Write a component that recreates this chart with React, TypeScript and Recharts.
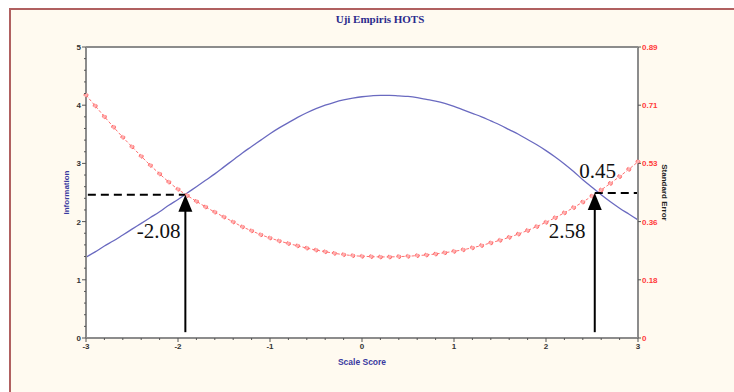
import {
  CartesianGrid,
  ComposedChart,
  Label,
  Line,
  ReferenceDot,
  ReferenceLine,
  XAxis,
  YAxis,
} from 'recharts';

const THETA = [
  -3.0, -2.9, -2.8, -2.7, -2.6, -2.5, -2.4, -2.3, -2.2, -2.1,
  -2.0, -1.9, -1.8, -1.7, -1.6, -1.5, -1.4, -1.3, -1.2, -1.1,
  -1.0, -0.9, -0.8, -0.7, -0.6, -0.5, -0.4, -0.3, -0.2, -0.1,
  0.0, 0.1, 0.2, 0.3, 0.4, 0.5, 0.6, 0.7, 0.8, 0.9,
  1.0, 1.1, 1.2, 1.3, 1.4, 1.5, 1.6, 1.7, 1.8, 1.9,
  2.0, 2.1, 2.2, 2.3, 2.4, 2.5, 2.6, 2.7, 2.8, 2.9, 3.0,
];

const INFORMATION = [
  1.39, 1.48, 1.58, 1.67, 1.77, 1.87, 1.97, 2.07, 2.17, 2.28,
  2.38, 2.49, 2.6, 2.71, 2.82, 2.94, 3.06, 3.18, 3.29, 3.4,
  3.51, 3.61, 3.7, 3.79, 3.87, 3.94, 4.0, 4.05, 4.09, 4.12,
  4.145, 4.16, 4.17, 4.17, 4.16, 4.15, 4.13, 4.1, 4.07, 4.03,
  3.98, 3.92, 3.86, 3.8, 3.73, 3.66, 3.58, 3.5, 3.41, 3.32,
  3.22, 3.11, 2.99, 2.86, 2.72, 2.59, 2.46, 2.34, 2.23, 2.13, 2.03,
];

const STD_ERROR = [
  0.743, 0.71, 0.677, 0.645, 0.614, 0.585, 0.556, 0.528, 0.502, 0.477,
  0.455, 0.436, 0.418, 0.401, 0.385, 0.37, 0.355, 0.34, 0.328, 0.316,
  0.306, 0.297, 0.289, 0.282, 0.275, 0.269, 0.264, 0.259, 0.255, 0.252,
  0.25, 0.249, 0.248, 0.248, 0.249, 0.25, 0.252, 0.254, 0.257, 0.261,
  0.265, 0.27, 0.276, 0.283, 0.291, 0.299, 0.308, 0.318, 0.329, 0.341,
  0.354, 0.368, 0.383, 0.399, 0.416, 0.434, 0.453, 0.473, 0.494, 0.516, 0.539,
];

const X_TICKS = Array.from({ length: 31 }, (_, i) => Math.round((-3 + i * 0.2) * 10) / 10);
const INFO_TICKS = Array.from({ length: 26 }, (_, i) => Math.round(i * 0.2 * 10) / 10);
const SE_TICKS = [0, 0.178, 0.356, 0.534, 0.712, 0.89];
const SE_TICK_LABELS = ['0', '0.18', '0.36', '0.53', '0.71', '0.89'];

// cut points marked on the plot
const LOW_CUT = { theta: -1.92, info: 2.46, label: '-2.08' };
const HIGH_CUT = { theta: 2.53, info: 2.49, label: '2.58', se: '0.45' };

const rows = THETA.map((theta, i) => ({ theta, info: INFORMATION[i], se: STD_ERROR[i] }));

const TICK_FONT = "'Liberation Sans Narrow', 'Liberation Sans', Arial, sans-serif";
const AXIS_GREY = '#8c8c8c';

const isMajor = (v: number) => Math.abs(v - Math.round(v)) < 1e-6;

function XTick(props: any) {
  const { x, y, payload } = props;
  const v = payload.value;
  const major = isMajor(v);
  return (
    <g>
      <line x1={x} x2={x} y1={y} y2={y + (major ? 4 : 2)} stroke="#555" />
      {major && (
        <text x={x} y={y + 11} textAnchor="middle" fontSize={8} fontWeight="bold" fontFamily={TICK_FONT} fill="#333">
          {Math.round(v)}
        </text>
      )}
    </g>
  );
}

function InfoTick(props: any) {
  const { x, y, payload } = props;
  const v = payload.value;
  const major = isMajor(v);
  return (
    <g>
      <line x1={x} x2={x - (major ? 4 : 2)} y1={y} y2={y} stroke="#555" />
      {major && (
        <text x={x - 5} y={y + 3} textAnchor="end" fontSize={8} fontWeight="bold" fontFamily={TICK_FONT} fill="#333">
          {Math.round(v)}
        </text>
      )}
    </g>
  );
}

function SeTick(props: any) {
  const { x, y, payload, index } = props;
  return (
    <g>
      <line x1={x} x2={x + 3} y1={y} y2={y} stroke="#555" />
      <text x={x + 4} y={y + 3} textAnchor="start" fontSize={8} fontWeight="bold" fontFamily={TICK_FONT} fill="#ff3b3b">
        {SE_TICK_LABELS[index] ?? payload.value}
      </text>
    </g>
  );
}

function ArrowHead(props: any) {
  const { cx, cy } = props;
  return <polygon points={`${cx},${cy} ${cx - 7},${cy + 17} ${cx + 7},${cy + 17}`} fill="#000" />;
}

function BigText(text: string) {
  return (props: any) => (
    <text
      x={props.cx}
      y={props.cy}
      textAnchor="middle"
      fontSize={21}
      fontFamily="'Liberation Serif', 'Times New Roman', serif"
      fill="#111"
    >
      {text}
    </text>
  );
}

export default function App() {
  return (
    <div style={{ position: 'absolute', left: 0, top: 0, width: 734, height: 392, background: '#fff', overflow: 'hidden' }}>
      <div
        style={{
          position: 'absolute',
          left: 9,
          top: 8,
          width: 740,
          height: 400,
          background: '#fffaf0',
          borderTop: '2px solid #b06060',
          borderLeft: '2px solid #b06060',
        }}
      />
      <div
        style={{
          position: 'absolute',
          left: 0,
          top: 13,
          width: 760,
          textAlign: 'center',
          fontFamily: "'Liberation Serif', 'Times New Roman', serif",
          fontWeight: 'bold',
          fontSize: 11,
          color: '#2b2b8c',
        }}
      >
        Uji Empiris HOTS
      </div>
      <div style={{ position: 'absolute', left: 0, top: 0 }}>
        <ComposedChart width={734} height={392} data={rows} margin={{ top: 47, right: 66, bottom: 24, left: 56 }}>
          <CartesianGrid xAxisId="x" yAxisId="left" horizontal={false} vertical={false} fill="#fff" />
          <XAxis
            xAxisId="x"
            dataKey="theta"
            type="number"
            domain={[-3, 3]}
            ticks={X_TICKS}
            interval={0}
            height={30}
            tickSize={0}
            tickMargin={0}
            tick={<XTick />}
            axisLine={{ stroke: AXIS_GREY, strokeWidth: 2 }}
          >
            <Label
              value="Scale Score"
              position="insideBottom"
              offset={3}
              fontSize={8.5}
              fontWeight="bold"
              fontFamily={TICK_FONT}
              fill="#3a3aa0"
            />
          </XAxis>
          <YAxis
            yAxisId="left"
            orientation="left"
            type="number"
            domain={[0, 5]}
            ticks={INFO_TICKS}
            interval={0}
            width={30}
            tickSize={0}
            tickMargin={0}
            tick={<InfoTick />}
            axisLine={{ stroke: AXIS_GREY, strokeWidth: 2 }}
          >
            <Label
              value="Information"
              angle={-90}
              position="insideLeft"
              offset={10}
              style={{ textAnchor: 'middle' }}
              fontSize={8}
              fontWeight="bold"
              fontFamily={TICK_FONT}
              fill="#3a3aa0"
            />
          </YAxis>
          <YAxis
            yAxisId="right"
            orientation="right"
            type="number"
            domain={[0, 0.89]}
            ticks={SE_TICKS}
            interval={0}
            width={30}
            tickSize={0}
            tickMargin={0}
            tick={<SeTick />}
            axisLine={{ stroke: AXIS_GREY, strokeWidth: 2 }}
          >
            <Label
              value="Standard Error"
              angle={90}
              position="insideRight"
              offset={3}
              style={{ textAnchor: 'middle' }}
              fontSize={8}
              fontWeight="bold"
              fontFamily={TICK_FONT}
              fill="#222"
            />
          </YAxis>
          <ReferenceLine xAxisId="x" yAxisId="left" y={5} stroke={AXIS_GREY} strokeWidth={2} />

          <Line
            xAxisId="x"
            yAxisId="left"
            dataKey="info"
            type="monotone"
            stroke="#6a6ac0"
            strokeWidth={1.3}
            dot={false}
            isAnimationActive={false}
          />
          <Line
            xAxisId="x"
            yAxisId="right"
            dataKey="se"
            type="monotone"
            stroke="#ff7070"
            strokeWidth={1}
            strokeDasharray="3 2"
            dot={{ r: 2, fill: '#ffb0b0', stroke: '#ff6a6a', strokeWidth: 1 }}
            isAnimationActive={false}
          />

          <ReferenceLine
            xAxisId="x"
            yAxisId="left"
            segment={[{ x: -2.98, y: LOW_CUT.info }, { x: LOW_CUT.theta, y: LOW_CUT.info }]}
            stroke="#000"
            strokeWidth={2}
            strokeDasharray="8 5"
          />
          <ReferenceLine
            xAxisId="x"
            yAxisId="left"
            segment={[{ x: HIGH_CUT.theta, y: HIGH_CUT.info }, { x: 3, y: HIGH_CUT.info }]}
            stroke="#000"
            strokeWidth={2}
            strokeDasharray="8 5"
          />
          <ReferenceLine
            xAxisId="x"
            yAxisId="left"
            segment={[{ x: LOW_CUT.theta, y: 0.1 }, { x: LOW_CUT.theta, y: 2.2 }]}
            stroke="#000"
            strokeWidth={2}
          />
          <ReferenceLine
            xAxisId="x"
            yAxisId="left"
            segment={[{ x: HIGH_CUT.theta, y: 0.1 }, { x: HIGH_CUT.theta, y: 2.2 }]}
            stroke="#000"
            strokeWidth={2}
          />
          <ReferenceDot xAxisId="x" yAxisId="left" x={LOW_CUT.theta} y={LOW_CUT.info} shape={ArrowHead} />
          <ReferenceDot xAxisId="x" yAxisId="left" x={HIGH_CUT.theta} y={HIGH_CUT.info} shape={ArrowHead} />
          <ReferenceDot xAxisId="x" yAxisId="left" x={-2.21} y={1.72} shape={BigText(LOW_CUT.label)} />
          <ReferenceDot xAxisId="x" yAxisId="left" x={2.23} y={1.72} shape={BigText(HIGH_CUT.label)} />
          <ReferenceDot xAxisId="x" yAxisId="left" x={2.56} y={2.75} shape={BigText(HIGH_CUT.se)} />
        </ComposedChart>
      </div>
    </div>
  );
}
